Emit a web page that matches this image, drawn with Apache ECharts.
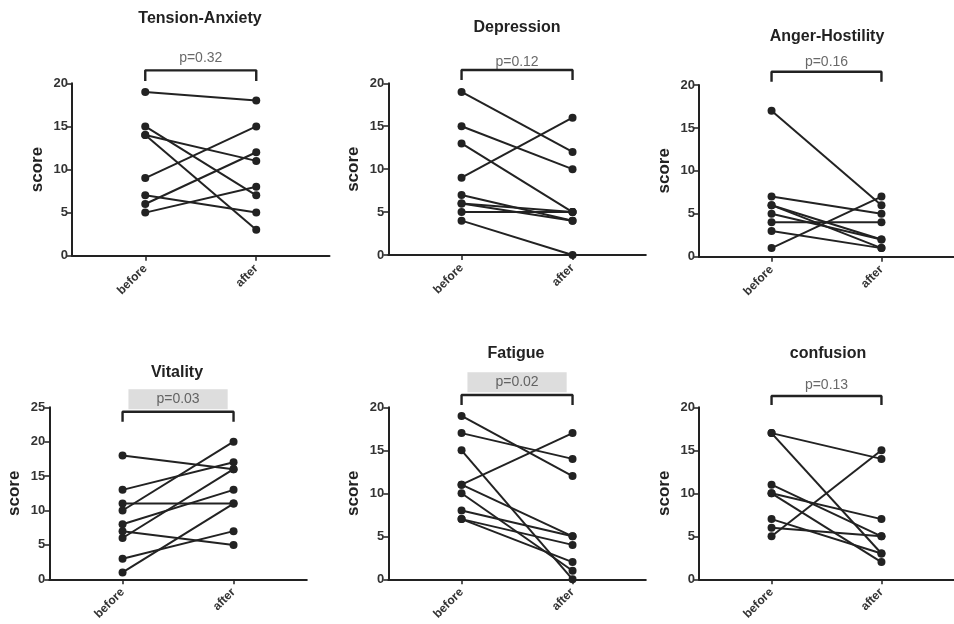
<!DOCTYPE html>
<html>
<head>
<meta charset="utf-8">
<script src="https://cdn.jsdelivr.net/npm/echarts@6/dist/echarts.min.js"></script>
<style>
  html, body { margin: 0; padding: 0; background: #fff; }
  #chart { width: 954px; height: 624px; }
</style>
</head>
<body>
<div id="chart"></div>
<script>
// ---- data ----
const panelTitles = ['Tension-Anxiety', 'Depression', 'Anger-Hostility', 'Vitality', 'Fatigue', 'confusion'];
const timeLabels = ['before', 'after'];

const tensionBefore = [19, 15, 14, 14, 9, 7, 6, 5];
const tensionAfter = [18, 7, 11, 3, 15, 5, 12, 8];
const depressionBefore = [19, 15, 13, 9, 7, 6, 6, 5, 4];
const depressionAfter = [12, 10, 5, 16, 4, 5, 4, 5, 0];
const angerBefore = [17, 7, 6, 6, 5, 4, 3, 1];
const angerAfter = [6, 5, 2, 1, 2, 4, 1, 7];
const vitalityBefore = [18, 13, 11, 10, 8, 7, 6, 3, 1];
const vitalityAfter = [16, 17, 11, 20, 13, 5, 16, 7, 11];
const fatigueBefore = [19, 17, 15, 11, 11, 10, 8, 7, 7];
const fatigueAfter = [12, 14, 0, 17, 5, 1, 5, 4, 2];
const confusionBefore = [17, 17, 11, 10, 10, 7, 6, 5];
const confusionAfter = [14, 3, 5, 7, 2, 3, 5, 15];

const pLabels = ['p=0.32', 'p=0.12', 'p=0.16', 'p=0.03', 'p=0.02', 'p=0.13'];
const significant = [false, false, false, true, true, false];
const yMax = [20, 20, 20, 25, 20, 20];

// bracket / p label heights in score units
const bracketTop = [21.5, 21.55, 21.55, 24.36, 21.43, 21.31];
const bracketLeg = [20.27, 20.38, 20.38, 22.9, 20.27, 20.27];
const pLabelY = [22.9, 22.5, 22.7, 26.16, 22.92, 22.6];

const befores = [tensionBefore, depressionBefore, angerBefore, vitalityBefore, fatigueBefore, confusionBefore];
const afters = [tensionAfter, depressionAfter, angerAfter, vitalityAfter, fatigueAfter, confusionAfter];

// ---- layout ----
const grids = [
  { left: 72, top: 83.3, width: 257.5, height: 172.4 },
  { left: 388.3, top: 83.3, width: 257.5, height: 171.7 },
  { left: 699, top: 85, width: 257.5, height: 171.7 },
  { left: 49.3, top: 407.3, width: 257.5, height: 172 },
  { left: 388.3, top: 407.3, width: 257.5, height: 172 },
  { left: 699, top: 407.3, width: 257.5, height: 172 }
];
const titlePos = [[200, 18.5], [517, 28], [827, 37], [177, 373], [516, 354], [828, 353.5]];

const FONT = '"Liberation Sans", Arial, sans-serif';
const INK = '#222';

const xAxes = [], yAxes = [], series = [];
grids.forEach((g, p) => {
  xAxes.push({
    gridIndex: p, type: 'value', min: -0.66, max: 1.66,
    axisLine: { onZero: false, lineStyle: { color: INK, width: 2 } },
    axisTick: { customValues: [0, 1], length: 5, lineStyle: { color: INK, width: 1.5 } },
    axisLabel: {
      customValues: [0, 1], formatter: v => timeLabels[v], rotate: 45, margin: 11,
      fontFamily: FONT, fontSize: 12, fontWeight: 'bold', color: '#333'
    },
    splitLine: { show: false }
  });
  yAxes.push({
    gridIndex: p, type: 'value', min: 0, max: yMax[p], interval: 5,
    axisLine: { show: true, onZero: false, lineStyle: { color: INK, width: 2 } },
    axisTick: { show: true, length: 5, lineStyle: { color: INK, width: 1.5 } },
    axisLabel: { fontFamily: FONT, fontSize: 13, fontWeight: 'bold', color: '#333', margin: 4 },
    splitLine: { show: false },
    name: 'score', nameLocation: 'middle', nameGap: 26,
    nameTextStyle: { fontFamily: FONT, fontSize: 17, fontWeight: 'bold', color: INK }
  });

  befores[p].forEach((b, i) => {
    series.push({
      type: 'line', xAxisIndex: p, yAxisIndex: p,
      data: [[0, b], [1, afters[p][i]]],
      symbol: 'circle', symbolSize: 8,
      lineStyle: { color: INK, width: 2 },
      itemStyle: { color: INK },
      silent: true
    });
  });

  // significance bracket
  series.push({
    type: 'line', xAxisIndex: p, yAxisIndex: p, clip: false,
    data: [[0, bracketLeg[p]], [0, bracketTop[p]], [1, bracketTop[p]], [1, bracketLeg[p]]],
    symbol: 'none', lineStyle: { color: INK, width: 2.4 }, silent: true
  });
  // p value label
  series.push({
    type: 'scatter', xAxisIndex: p, yAxisIndex: p, clip: false,
    data: [[0.5, pLabelY[p]]], symbolSize: 0, silent: true,
    label: {
      show: true, position: 'inside', formatter: pLabels[p],
      fontFamily: FONT, fontSize: 14, color: '#444',
      backgroundColor: significant[p] ? '#d4d4d4' : 'transparent',
      padding: significant[p] ? [3, 28] : 0
    }
  });
});

const chart = echarts.init(document.getElementById('chart'));
chart.setOption({
  animation: false,
  backgroundColor: '#fff',
  grid: grids,
  xAxis: xAxes,
  yAxis: yAxes,
  series: series,
  graphic: panelTitles.map((t, i) => ({
    type: 'text', x: titlePos[i][0], y: titlePos[i][1],
    style: {
      text: t, font: 'bold 16px ' + FONT, fill: INK,
      align: 'center', verticalAlign: 'middle',
      textAlign: 'center', textVerticalAlign: 'middle'
    }
  }))
});
</script>
</body>
</html>
